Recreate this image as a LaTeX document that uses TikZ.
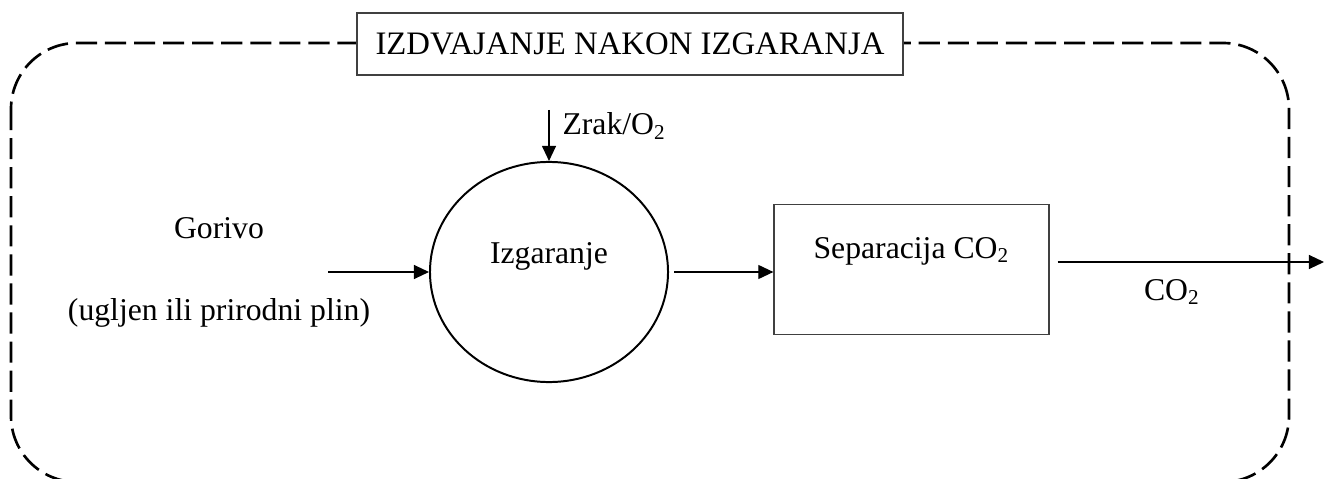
\documentclass[tikz,border=0pt]{standalone}
\usepackage{fontspec}
\setmainfont{Liberation Serif}
\usetikzlibrary{shapes.geometric,arrows.meta}

\begin{document}
\begin{tikzpicture}[
	x=0.3785pt, y=-0.3785pt,
	every node/.style={font=\fontsize{12pt}{14pt}\selectfont},
	proc/.style={ellipse, draw=black, line width=0.75pt, minimum width=90.1pt, minimum height=83.3pt, inner sep=0pt, text height=10pt, text depth=16.8pt},
	block/.style={rectangle, draw=black!75, line width=0.45pt, minimum width=104.1pt, inner sep=0pt, text height=20.4pt, text depth=29.1pt},
	title/.style={rectangle, draw=black!75, line width=0.45pt, fill=white, minimum width=206.7pt, minimum height=23.5pt, font=\fontsize{12.4pt}{14pt}\selectfont},
	label/.style={inner sep=0pt},
	frame/.style={dash pattern=on 8pt off 3pt, line width=1pt, rounded corners=25pt},
	arr/.style={-{Triangle[length=5.7pt,width=5.3pt]}, line width=0.45pt}
]
\useasboundingbox (0,0) rectangle (1325,479);
% okvir
\draw[frame] (11,43) rectangle (1289,482);
\node[title] (naslov) at (630,44) {IZDVAJANJE NAKON IZGARANJA};
% procesi
\node[proc] (izg) at (549,272) {Izgaranje};
\node[block] (sep) at (911.5,269.5) {Separacija CO\textsubscript{2}};
% oznake
\node[label, anchor=base] (gorivo) at (219,238) {Gorivo};
\node[label, anchor=base] (ugljen) at (219,320) {(ugljen ili prirodni plin)};
\node[label, anchor=base west] (zrak) at (562,135) {Zrak/O\textsubscript{2}};
\node[label, anchor=base] (co2) at (1172,300) {CO\textsubscript{2}};
\coordinate (gorin) at (328,272);
\coordinate (zrakin) at (549,110);
\coordinate (co2out) at (1324,262);
% tokovi
\draw[arr] (gorin) -- (izg.west);
\draw[arr] (zrakin) -- (izg.north);
\draw[arr] ([xshift=2pt]izg.east) -- (izg.east -| sep.west);
\draw[arr] ([shift={(8,-7.5)}]sep.east) -- (co2out);
\end{tikzpicture}
\end{document}
